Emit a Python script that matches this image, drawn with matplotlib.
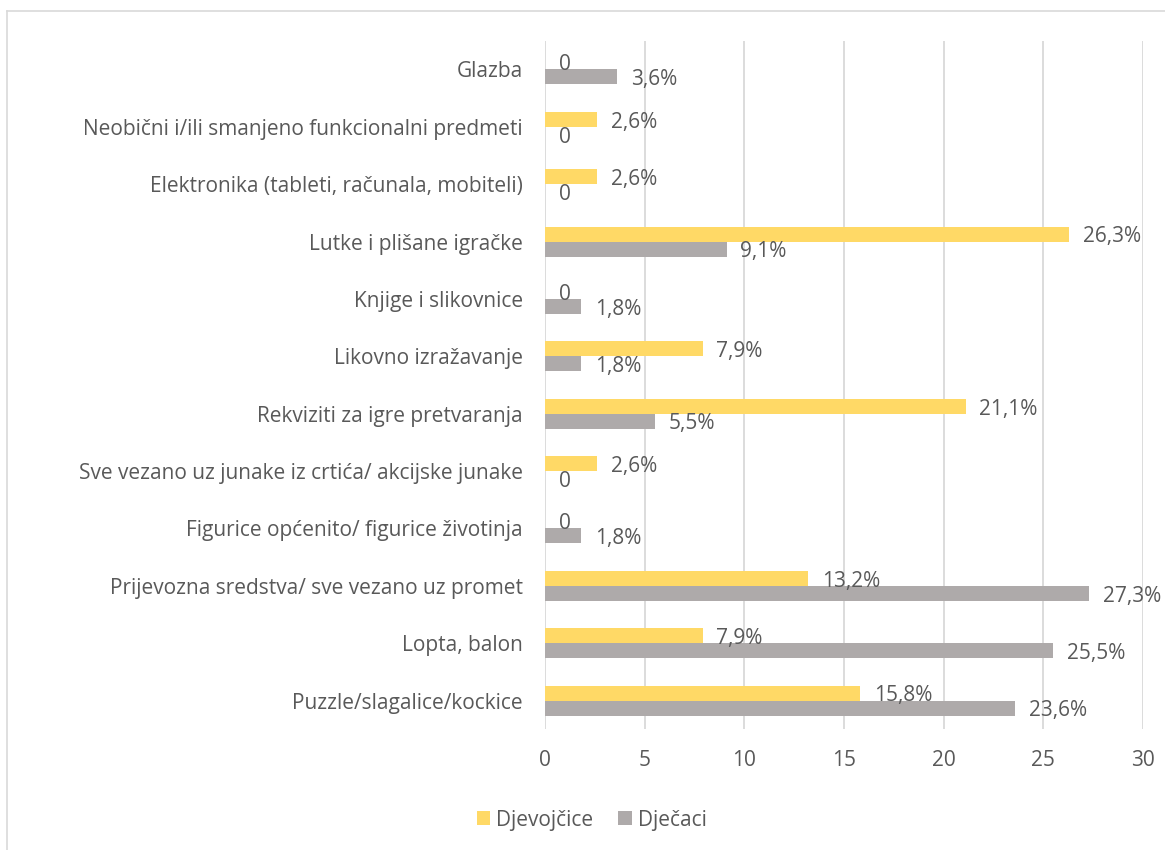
import numpy as np
import matplotlib
matplotlib.use('Agg')
import matplotlib.pyplot as plt
from matplotlib.lines import Line2D

categories = ['Puzzle/slagalice/kockice', 'Lopta, balon',
              'Prijevozna sredstva/ sve vezano uz promet',
              'Figurice općenito/ figurice životinja',
              'Sve vezano uz junake iz crtića/ akcijske junake',
              'Rekviziti za igre pretvaranja', 'Likovno izražavanje',
              'Knjige i slikovnice', 'Lutke i plišane igračke',
              'Elektronika (tableti, računala, mobiteli)',
              'Neobični i/ili smanjeno funkcionalni predmeti', 'Glazba']
djevojcice = [15.8, 7.9, 13.2, 0, 2.6, 21.1, 7.9, 0, 26.3, 2.6, 2.6, 0]
djecaci = [23.6, 25.5, 27.3, 1.8, 0, 5.5, 1.8, 1.8, 9.1, 0, 0, 3.6]

plt.rcParams['font.family'] = ['Open Sans', 'DejaVu Sans']
txt = '#595959'
fs = 15

fig = plt.figure(figsize=(11.65, 8.5), dpi=100)
ax = fig.add_axes([0.468, 0.142, 0.513, 0.81])

y = np.arange(len(categories))
h = 0.26
ax.barh(y + h / 2, djevojcice, height=h, color='#FFD966', label='Djevojčice', zorder=3)
ax.barh(y - h / 2, djecaci, height=h, color='#AEAAAA', label='Dječaci', zorder=3)

def lab(v):
    if v == 0:
        return '0'
    return ('%.1f' % v).replace('.', ',') + '%'

for i in range(len(categories)):
    ax.annotate(lab(djevojcice[i]), (djevojcice[i], y[i] + h / 2), xytext=(10, -2),
                textcoords='offset points', va='center', ha='left', fontsize=fs, color=txt)
    ax.annotate(lab(djecaci[i]), (djecaci[i], y[i] - h / 2), xytext=(10, -2),
                textcoords='offset points', va='center', ha='left', fontsize=fs, color=txt)

ax.set_xlim(0, 30)
ax.set_ylim(-0.5, len(categories) - 0.5)
ax.set_xticks(range(0, 31, 5))
ax.set_yticks(y)
ax.set_yticklabels(categories)
ax.tick_params(length=0, labelsize=fs, labelcolor=txt)
ax.tick_params(axis='y', pad=16)
ax.tick_params(axis='x', pad=15)
ax.grid(axis='x', color='#D9D9D9', linewidth=1.3, zorder=0)
for s in ax.spines.values():
    s.set_visible(False)

fig.legend(loc='center', bbox_to_anchor=(0.508, 0.035), ncol=2, frameon=False,
           fontsize=fs, labelcolor=txt, handlelength=0.65, handleheight=0.65,
           columnspacing=1.2, handletextpad=0.3)

fig.add_artist(Line2D([0.006, 1], [0.987, 0.987], color='#D9D9D9', lw=1.2))
fig.add_artist(Line2D([0.006, 0.006], [0, 0.987], color='#D9D9D9', lw=1.2))

fig.savefig('out.png', dpi=100)
